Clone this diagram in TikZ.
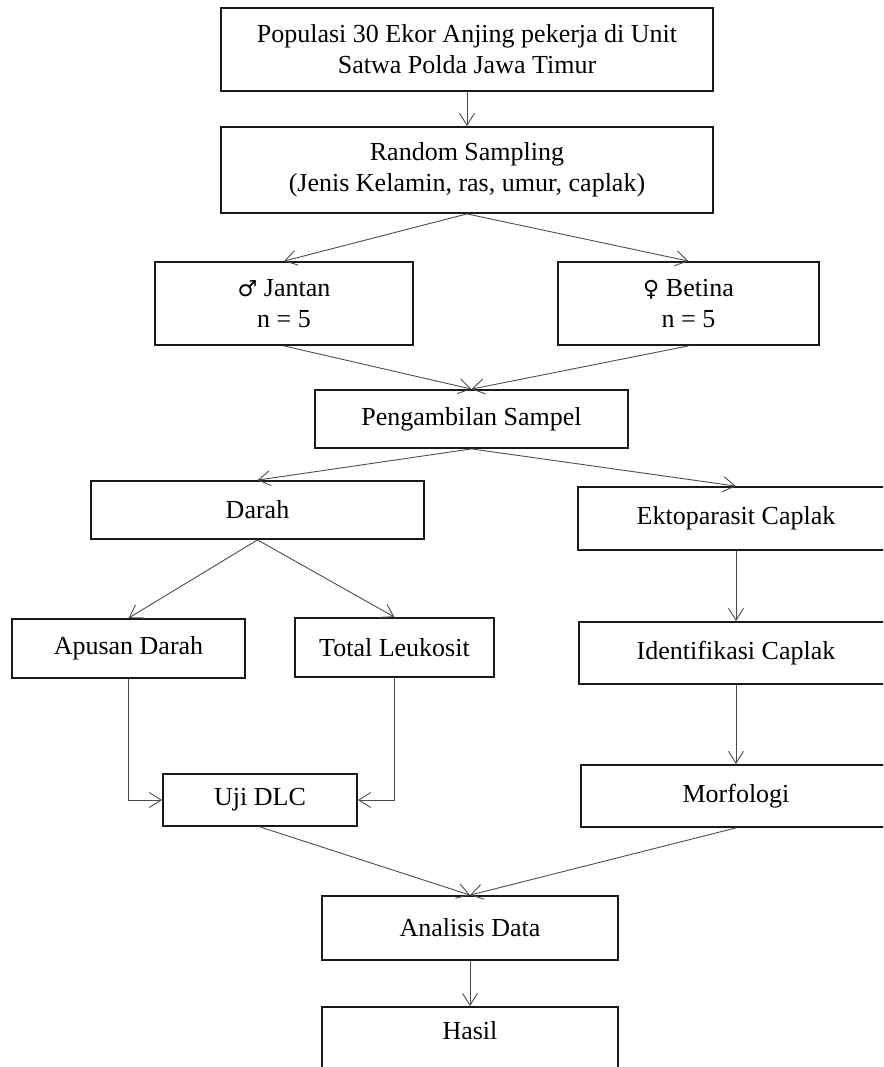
\documentclass[tikz,border=0pt]{standalone}
\usepackage{fontspec}
\setmainfont{Liberation Serif}
\newfontfamily\symfont{DejaVu Sans}
\usetikzlibrary{arrows.meta}
\tikzset{flowbox/.style={draw=black!90,rectangle,line width=1.8pt,inner sep=0pt,align=center,font=\fontsize{26}{31}\selectfont}}
\tikzset{flowline/.style={draw=black!70,line width=0.9pt}}

\begin{document}
\begin{tikzpicture}[x=1pt,y=-1pt,>={Straight Barb[length=12pt,width=15pt]}]
    \clip (0,0) rectangle (883,1067);
    % sampling
    \node[flowbox,minimum width=492pt,minimum height=83pt] (pop) at (467,49.5) {Populasi 30 Ekor Anjing pekerja di Unit\\Satwa Polda Jawa Timur};
    \node[flowbox,minimum width=492pt,minimum height=86pt] (rand) at (467,170) {Random Sampling\\(Jenis Kelamin, ras, umur, caplak)};
    \node[flowbox,minimum width=258pt,minimum height=83pt] (jantan) at (284,303.5) {{\symfont\scalebox{0.85}{♂}} Jantan\\n = 5};
    \node[flowbox,minimum width=261pt,minimum height=83pt] (betina) at (688.5,303.5) {{\symfont\scalebox{0.85}{♀}} Betina\\n = 5};
    \node[flowbox,minimum width=313pt,minimum height=58pt] (peng) at (471.5,419) {Pengambilan Sampel};

    % darah and caplak branches
    \node[flowbox,minimum width=333pt,minimum height=58pt] (darah) at (257.5,510) {Darah};
    \node[flowbox,minimum width=316pt,minimum height=63pt] (ekto) at (736,518.5) {Ektoparasit Caplak};
    \node[flowbox,minimum width=233pt,minimum height=59pt] (apusan) at (128.5,648.5) {Apusan Darah};
    \node[flowbox,minimum width=199pt,minimum height=59pt] (total) at (394.5,647.5) {Total Leukosit};
    \node[flowbox,minimum width=314pt,minimum height=62pt] (ident) at (736,653) {Identifikasi Caplak};
    \node[flowbox,minimum width=194pt,minimum height=52pt] (uji) at (260,800) {Uji DLC};
    \node[flowbox,minimum width=310pt,minimum height=62pt] (morf) at (736,796) {Morfologi};

    % results
    \node[flowbox,minimum width=296pt,minimum height=64pt] (anal) at (470,928) {Analisis Data};
    \node[flowbox,minimum width=296pt,minimum height=76pt,text depth=30pt] (hasil) at (470,1045) {Hasil};

    \foreach \src/\dst in {pop/rand,ekto/ident,ident/morf,anal/hasil} {
      \draw[flowline,->] (\src) -- (\dst);
    }
    \foreach \src/\dst in {rand/jantan,rand/betina,jantan/peng,betina/peng,peng/darah,peng/ekto,darah/apusan,darah/total,uji/anal,morf/anal} {
      \draw[flowline,->] (\src.south) -- (\dst.north);
    }
    \draw[flowline,->] (apusan.south) |- (uji.west);
    \draw[flowline,->] (total.south) |- (uji.east);
\end{tikzpicture}
\end{document}
